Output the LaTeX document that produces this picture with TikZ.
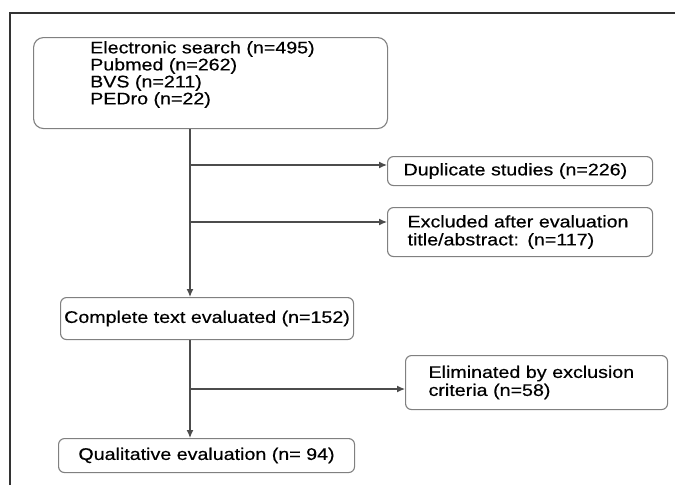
\documentclass[tikz,border=0pt]{standalone}
\usepackage{fontspec}
\setmainfont{Liberation Sans}[FakeStretch=1.17,FakeBold=0.4]
\usetikzlibrary{arrows.meta}
\begin{document}
\begin{tikzpicture}[x=1pt,y=-1pt,
  box/.style={draw=black!50, line width=1.1pt, rounded corners=6pt, inner ysep=0pt,
    font=\fontsize{16.8}{17.5}\selectfont, text=black},
  txt/.style={inner sep=0pt, align=left, font=\fontsize{16.8}{17}\selectfont, text=black},
  conn/.style={draw=black!70, line width=1.2pt, -{Latex[length=8pt,width=7pt]}}]
\useasboundingbox (0,0) rectangle (675,485);
\draw[black!80, line width=1.4pt] (10,485) -- (10,13) -- (675,13);

\node[box, rounded corners=10pt, anchor=north west, minimum width=354pt, minimum height=91pt] (search) at (33,37) {};
\node[txt, anchor=north west] (searchtext) at (90,41)
  {Electronic search (n=495)\\Pubmed (n=262)\\BVS (n=211)\\PEDro (n=22)};

\node[box, anchor=north west, minimum width=265pt, minimum height=29pt,
  inner xsep=16pt, text width=233pt, align=left] (dup) at (387,156)
  {Duplicate studies (n=226)};

\node[box, anchor=north west, minimum width=265pt, minimum height=49pt,
  inner xsep=20pt, text width=225pt, align=left, font=\fontsize{16.8}{18}\selectfont] (excl) at (387,207)
  {Excluded after evaluation\\title/abstract: (n=117)};

\node[box, anchor=north west, minimum width=293pt, minimum height=42pt] (complete) at (60,297)
  {Complete text evaluated (n=152)};

\node[box, anchor=north west, minimum width=262pt, minimum height=54pt,
  inner xsep=23pt, text width=216pt, align=left, font=\fontsize{16.8}{18}\selectfont] (elim) at (405,355)
  {Eliminated by exclusion\\criteria (n=58)};

\node[box, anchor=north west, minimum width=296pt, minimum height=34pt] (qual) at (58,438)
  {Qualitative evaluation (n= 94)};

\coordinate (tx) at (190,0);
\coordinate (b1) at (190,165);
\coordinate (b2) at (190,222);
\coordinate (b3) at (190,389);

\draw[conn] (search.south -| tx) -- (complete.north -| tx);
\draw[conn] (b1) -- (b1 -| dup.west);
\draw[conn] (b2) -- (b2 -| excl.west);
\draw[conn] (complete.south -| tx) -- (qual.north -| tx);
\draw[conn] (b3) -- (b3 -| elim.west);
\end{tikzpicture}
\end{document}
